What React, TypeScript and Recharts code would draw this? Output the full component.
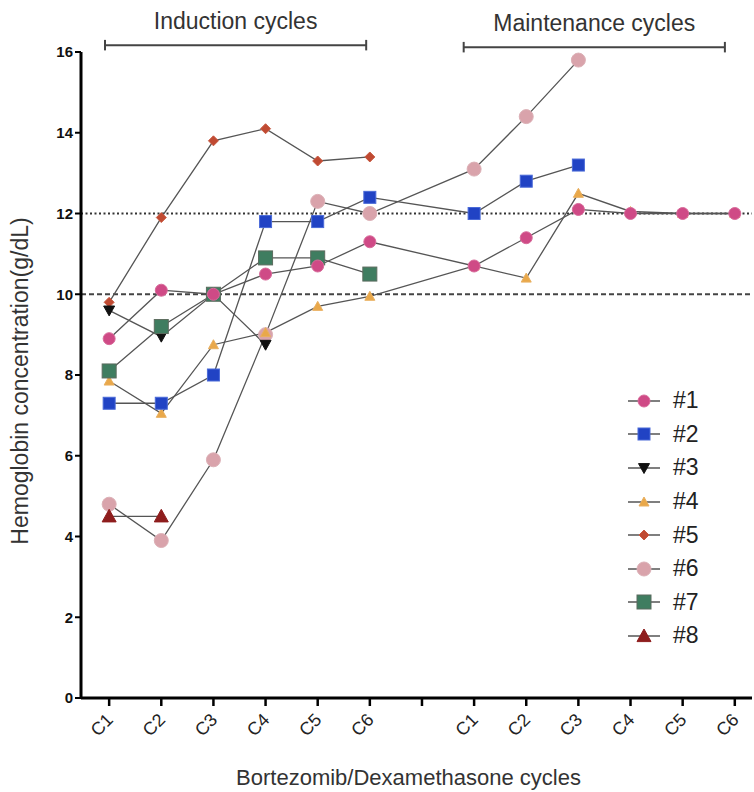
import React from 'react';
import { LineChart, Line, XAxis, YAxis, ReferenceLine, Legend, Label } from 'recharts';

// ---- data ----
const cycles = ['C1', 'C2', 'C3', 'C4', 'C5', 'C6', '', 'C1', 'C2', 'C3', 'C4', 'C5', 'C6'];
const slots = [1, 2, 3, 4, 5, 6, 7, 8, 9, 10, 11, 12, 13];
const yTicks = [0, 2, 4, 6, 8, 10, 12, 14, 16];

const p1 = [8.9, 10.1, 10.0, 10.5, 10.7, 11.3, null, 10.7, 11.4, 12.1, 12.0, 12.0, 12.0];
const p2 = [7.3, 7.3, 8.0, 11.8, 11.8, 12.4, null, 12.0, 12.8, 13.2, null, null, null];
const p3 = [9.6, 8.95, 10.0, 8.75, null, null, null, null, null, null, null, null, null];
const p4 = [7.85, 7.05, 8.75, 9.05, 9.7, 9.95, null, 10.7, 10.4, 12.5, 12.05, 12.0, 12.0];
const p5 = [9.8, 11.9, 13.8, 14.1, 13.3, 13.4, null, null, null, null, null, null, null];
const p6 = [4.8, 3.9, 5.9, 9.0, 12.3, 12.0, null, 13.1, 14.4, 15.8, null, null, null];
const p7 = [8.1, 9.2, 10.0, 10.9, 10.9, 10.5, null, null, null, null, null, null, null];
const p8 = [4.5, 4.5, null, null, null, null, null, null, null, null, null, null, null];

const patientNames = ['#1', '#2', '#3', '#4', '#5', '#6', '#7', '#8'];
const seriesValues = [p1, p2, p3, p4, p5, p6, p7, p8];

const inductionLabel = 'Induction cycles';
const maintenanceLabel = 'Maintenance cycles';
const xTitle = 'Bortezomib/Dexamethasone cycles';
const yTitle = 'Hemoglobin concentration(g/dL)';

const data = slots.map((x, i) => {
  const row: any = { x };
  seriesValues.forEach((vals, k) => {
    row['p' + (k + 1)] = vals[i];
  });
  return row;
});

// ---- styles ----
type Shape = 'circle' | 'square' | 'triDown' | 'triUp' | 'diamond';
const styles: { shape: Shape; size: number; fill: string; stroke: string }[] = [
  { shape: 'circle', size: 12, fill: '#cf4a86', stroke: '#d86a9a' },
  { shape: 'square', size: 12, fill: '#2143c4', stroke: '#4a6ad8' },
  { shape: 'triDown', size: 11, fill: '#111111', stroke: '#111111' },
  { shape: 'triUp', size: 10, fill: '#e9a84a', stroke: '#e9b060' },
  { shape: 'diamond', size: 10, fill: '#c04a32', stroke: '#c85a42' },
  { shape: 'circle', size: 14, fill: '#d9a3ab', stroke: '#dcb0b6' },
  { shape: 'square', size: 14, fill: '#3f7d60', stroke: '#5b6b5e' },
  { shape: 'triUp', size: 14, fill: '#8e1d1d', stroke: '#8e1d1d' },
];
const drawOrder = [5, 4, 2, 3, 1, 6, 7, 0];

function marker(shape: Shape, cx: number, cy: number, s: number, fill: string, stroke: string, key?: any) {
  const h = s / 2;
  switch (shape) {
    case 'circle':
      return <circle key={key} cx={cx} cy={cy} r={h} fill={fill} stroke={stroke} strokeWidth={1} />;
    case 'square':
      return <rect key={key} x={cx - h} y={cy - h} width={s} height={s} fill={fill} stroke={stroke} strokeWidth={1} />;
    case 'triDown':
      return (
        <polygon key={key} points={`${cx - h},${cy - s * 0.4} ${cx + h},${cy - s * 0.4} ${cx},${cy + s * 0.5}`} fill={fill} stroke={stroke} strokeWidth={1} />
      );
    case 'triUp':
      return (
        <polygon key={key} points={`${cx - h},${cy + s * 0.4} ${cx + h},${cy + s * 0.4} ${cx},${cy - s * 0.5}`} fill={fill} stroke={stroke} strokeWidth={1} />
      );
    case 'diamond':
    default:
      return (
        <polygon key={key} points={`${cx},${cy - h} ${cx + h},${cy} ${cx},${cy + h} ${cx - h},${cy}`} fill={fill} stroke={stroke} strokeWidth={1} />
      );
  }
}

const makeDot = (k: number) => (props: any) => {
  const { cx, cy, index } = props;
  if (cx == null || cy == null || props.value == null || Number.isNaN(cy)) return <g key={`e${k}-${index}`} />;
  const st = styles[k];
  return marker(st.shape, cx, cy, st.size, st.fill, st.stroke, `d${k}-${index}`);
};

const XTick = (props: any) => {
  const { x, payload } = props;
  const label = cycles[payload.value - 1];
  return (
    <g transform={`translate(${x},721)`}>
      <text x={5} y={0} textAnchor="end" transform="rotate(-45 5 0)" fontSize={18} fill="#222">
        {label}
      </text>
    </g>
  );
};

const LegendContent = () => (
  <div style={{ fontFamily: '"Liberation Sans", Arial, sans-serif' }}>
    {patientNames.map((n, k) => {
      const st = styles[k];
      return (
        <div key={n} style={{ display: 'flex', alignItems: 'center', height: 33.6 }}>
          <svg width={40} height={20} style={{ display: 'block' }}>
            <line x1={4} y1={10} x2={36} y2={10} stroke="#555" strokeWidth={1.5} />
            {marker(st.shape, 20, 10, st.size, st.fill, st.stroke)}
          </svg>
          <span style={{ marginLeft: 9, fontSize: 23, color: '#222' }}>{n}</span>
        </div>
      );
    })}
  </div>
);

export default function App() {
  return (
    <div style={{ position: 'absolute', left: 0, top: 0, fontFamily: '"Liberation Sans", Arial, sans-serif' }}>
      <LineChart width={754} height={792} data={data} margin={{ top: 52, right: 2, bottom: 0, left: 0 }}>
        <XAxis
          type="number"
          dataKey="x"
          domain={[0.46, 13.33]}
          ticks={slots}
          allowDataOverflow
          height={94}
          tick={<XTick />}
          tickSize={8}
          axisLine={{ stroke: '#000', strokeWidth: 3 }}
          tickLine={{ stroke: '#000', strokeWidth: 2.5 }}
          interval={0}
        >
          <Label value={xTitle} position="insideBottom" offset={7} dx={-8} fontSize={22} fill="#333" />
        </XAxis>
        <YAxis
          type="number"
          domain={[0, 16]}
          ticks={yTicks}
          width={81}
          tickSize={6}
          axisLine={{ stroke: '#000', strokeWidth: 3 }}
          tickLine={{ stroke: '#000', strokeWidth: 2 }}
          tick={{ fontSize: 15, fontWeight: 'bold', fill: '#111' }}
          interval={0}
        >
          <Label value={yTitle} angle={-90} position="center" dx={-21} dy={6} fontSize={23} fill="#333" />
        </YAxis>
        <ReferenceLine y={12} stroke="#333" strokeWidth={2} strokeDasharray="2 2.5" />
        <ReferenceLine y={10} stroke="#444" strokeWidth={2} strokeDasharray="5 3" />
        <ReferenceLine
          segment={[{ x: 0.92, y: 16.17 }, { x: 5.93, y: 16.17 }]}
          stroke="#444"
          strokeWidth={2}
          ifOverflow="visible"
          label={{ value: inductionLabel, position: 'top', offset: 16, fontSize: 23, fill: '#333' }}
        />
        <ReferenceLine segment={[{ x: 0.92, y: 16.04 }, { x: 0.92, y: 16.3 }]} stroke="#444" strokeWidth={2} ifOverflow="visible" />
        <ReferenceLine segment={[{ x: 5.93, y: 16.04 }, { x: 5.93, y: 16.3 }]} stroke="#444" strokeWidth={2} ifOverflow="visible" />
        <ReferenceLine
          segment={[{ x: 7.8, y: 16.12 }, { x: 12.81, y: 16.12 }]}
          stroke="#444"
          strokeWidth={2}
          ifOverflow="visible"
          label={{ value: maintenanceLabel, position: 'top', offset: 16, fontSize: 23, fill: '#333' }}
        />
        <ReferenceLine segment={[{ x: 7.8, y: 15.99 }, { x: 7.8, y: 16.25 }]} stroke="#444" strokeWidth={2} ifOverflow="visible" />
        <ReferenceLine segment={[{ x: 12.81, y: 15.99 }, { x: 12.81, y: 16.25 }]} stroke="#444" strokeWidth={2} ifOverflow="visible" />
        {drawOrder.map((k) => (
          <Line
            key={k}
            type="linear"
            dataKey={'p' + (k + 1)}
            name={patientNames[k]}
            stroke="#555"
            strokeWidth={1.3}
            connectNulls
            dot={makeDot(k)}
            activeDot={false}
            isAnimationActive={false}
            legendType="none"
          />
        ))}
        <Legend
          content={<LegendContent />}
          layout="vertical"
          align="center"
          verticalAlign="middle"
          wrapperStyle={{ left: 624, top: 384, width: 120 }}
        />
      </LineChart>
    </div>
  );
}
